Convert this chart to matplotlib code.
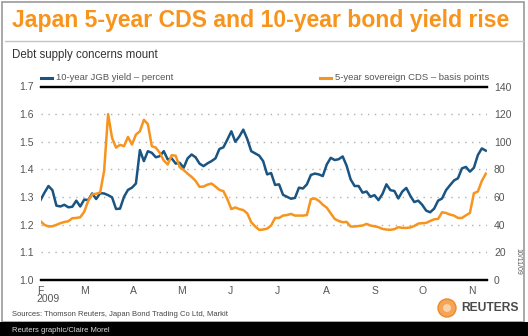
import numpy as np
import pandas as pd
import matplotlib
matplotlib.use('Agg')
import matplotlib.pyplot as plt
import matplotlib.dates as mdates
from matplotlib.lines import Line2D
from matplotlib.patches import Rectangle, Ellipse

plt.rcParams['font.family'] = ['Liberation Sans', 'DejaVu Sans']

# 10-year JGB yield, percent (Feb 1 - Nov 10, 2009, evenly spaced samples)
jgb_yield = [
    1.289, 1.316, 1.340, 1.325, 1.269, 1.266, 1.272, 1.263, 1.265, 1.287,
    1.266, 1.291, 1.289, 1.313, 1.293, 1.314, 1.313, 1.307, 1.299, 1.257,
    1.258, 1.301, 1.326, 1.334, 1.349, 1.470, 1.430, 1.466, 1.460, 1.444,
    1.448, 1.466, 1.436, 1.440, 1.421, 1.424, 1.406, 1.440, 1.454, 1.444,
    1.421, 1.412, 1.422, 1.430, 1.440, 1.474, 1.480, 1.508, 1.538, 1.500,
    1.519, 1.544, 1.510, 1.466, 1.458, 1.450, 1.430, 1.382, 1.387, 1.344,
    1.346, 1.308, 1.301, 1.294, 1.297, 1.334, 1.331, 1.346, 1.380, 1.385,
    1.382, 1.376, 1.418, 1.442, 1.434, 1.437, 1.447, 1.413, 1.364, 1.340,
    1.340, 1.316, 1.320, 1.301, 1.307, 1.289, 1.311, 1.346, 1.325, 1.322,
    1.295, 1.320, 1.333, 1.305, 1.282, 1.287, 1.272, 1.251, 1.245, 1.258,
    1.287, 1.295, 1.325, 1.343, 1.360, 1.368, 1.404, 1.409, 1.392, 1.406,
    1.452, 1.476, 1.468,
]

# 5-year sovereign CDS, basis points (same dates)
cds_bp = [
    42.5, 39.9, 38.7, 38.9, 39.9, 41.1, 42.0, 42.5, 44.7, 44.9,
    45.4, 49.4, 57.3, 61.9, 62.4, 63.3, 78.9, 120.0, 102.8, 95.8,
    97.8, 96.8, 103.5, 98.0, 105.2, 107.6, 115.9, 112.8, 96.8, 95.8,
    92.0, 86.5, 83.6, 90.3, 89.9, 81.7, 79.6, 76.9, 74.6, 71.7,
    67.4, 67.6, 69.0, 69.8, 67.6, 65.2, 64.3, 58.5, 51.3, 52.5,
    51.3, 50.6, 48.2, 41.8, 38.7, 36.3, 36.5, 37.2, 39.4, 44.9,
    44.9, 46.6, 47.0, 47.8, 46.6, 46.6, 46.6, 47.0, 58.5, 59.0,
    57.3, 54.5, 52.3, 48.2, 44.2, 42.7, 41.8, 42.0, 38.7, 38.7,
    39.1, 39.4, 40.6, 39.4, 38.9, 38.2, 37.0, 36.5, 36.3, 36.8,
    38.2, 37.7, 37.7, 38.0, 39.1, 40.8, 41.1, 41.3, 42.7, 43.9,
    44.2, 49.0, 48.5, 47.3, 46.6, 44.9, 44.9, 46.8, 48.5, 62.8,
    64.0, 71.7, 76.9,
]

dates = pd.date_range('2009-02-01', '2009-11-10', periods=len(jgb_yield))
month_starts = pd.date_range('2009-02-01', '2009-11-01', freq='MS')
month_labels = ['F', 'M', 'A', 'M', 'J', 'J', 'A', 'S', 'O', 'N']
left_ticks = [1.0, 1.1, 1.2, 1.3, 1.4, 1.5, 1.6, 1.7]
right_ticks = [0, 20, 40, 60, 80, 100, 120, 140]

BLUE = '#1a5482'
ORANGE = '#f7941d'
GREY = '#555555'

W, H = 528, 336
fig = plt.figure(figsize=(W / 100, H / 100), dpi=100)
fig.patch.set_facecolor('white')

# frame, black footer strip
fig.add_artist(Rectangle((2 / W, 1 - 322 / H), 522 / W, 320 / H, transform=fig.transFigure,
                         fill=False, edgecolor='#9a9a9a', lw=1.2))
fig.add_artist(Rectangle((0, 0), 1, 14 / H, transform=fig.transFigure,
                         facecolor='black', edgecolor='none'))
fig.add_artist(Line2D([5 / W, 523 / W], [1 - 40.5 / H] * 2, color='#c4c4c4', lw=1.0))

fig.text(12 / W, 1 - 21 / H, 'Japan 5-year CDS and 10-year bond yield rise',
         color=ORANGE, fontsize=16.6, va='center', ha='left', fontweight='bold')
fig.text(12 / W, 1 - 55 / H, 'Debt supply concerns mount', color='#333333',
         fontsize=8.3, va='center', ha='left')

x0, x1 = 40.5, 487.0
y_top, y_bot = 86.5, 280.0
ax = fig.add_axes([x0 / W, 1 - y_bot / H, (x1 - x0) / W, (y_bot - y_top) / H])
ax2 = ax.twinx()

ax.plot(dates, jgb_yield, color=BLUE, lw=1.8, solid_joinstyle='round', zorder=3)
ax2.plot(dates, cds_bp, color=ORANGE, lw=1.8, solid_joinstyle='round', zorder=3)

ax.set_ylim(1.0, 1.7)
ax2.set_ylim(0, 140)
ax.set_xlim(pd.Timestamp('2009-02-01'), pd.Timestamp('2009-11-10 18:00'))

ax.set_yticks(left_ticks)
ax.set_yticklabels([f'{v:.1f}' for v in left_ticks])
ax2.set_yticks(right_ticks)
ax2.set_yticklabels([str(v) for v in right_ticks])
ax.set_xticks(month_starts)
ax.set_xticklabels(month_labels)

for a in (ax, ax2):
    a.tick_params(length=0, labelsize=7.5, labelcolor=GREY)
    for s in ('left', 'right'):
        a.spines[s].set_visible(False)
    a.spines['top'].set_linewidth(1.6)
    a.spines['bottom'].set_linewidth(1.6)
ax.tick_params(axis='y', pad=5)
ax2.tick_params(axis='y', pad=5)
ax.tick_params(axis='x', pad=4)

for v in left_ticks[1:-1]:
    ax.axhline(v, color='#b0b0b0', lw=1.0, ls=(0, (1, 4)), zorder=1)

ax.text(-0.008, -0.1, '2009', transform=ax.transAxes, fontsize=7.5, color=GREY,
        ha='left', va='center')

# legend above the top rule
ly = 1 - 78 / H
fig.add_artist(Line2D([41 / W, 52 / W], [ly, ly], color=BLUE, lw=2.2))
fig.text(56 / W, ly, '10-year JGB yield \u2013 percent', fontsize=6.8, color=GREY, va='center')
fig.add_artist(Line2D([320 / W, 331 / W], [ly, ly], color=ORANGE, lw=2.2))
fig.text(335 / W, ly, '5-year sovereign CDS \u2013 basis points', fontsize=6.8, color=GREY,
         va='center')

fig.text(518 / W, 1 - 261 / H, '10/11/09', rotation=270, fontsize=5, color=GREY,
         ha='center', va='center')

fig.text(12 / W, 1 - 315 / H, 'Sources: Thomson Reuters, Japan Bond Trading Co Ltd, Markit',
         fontsize=5.5, color='#444444', va='center')
fig.text(12 / W, 1 - 330 / H, 'Reuters graphic/Claire Morel', fontsize=5.5, color='#dddddd',
         va='center')

# Reuters mark
cx, cy = 447 / W, 1 - 308 / H
fig.add_artist(Ellipse((cx, cy), 18 / W, 18 / H, transform=fig.transFigure,
                       facecolor='#f4a55a', edgecolor='#f08a24', lw=1.0))
fig.add_artist(Ellipse((cx, cy), 8 / W, 8 / H, transform=fig.transFigure,
                       facecolor='#fbd2a6', edgecolor='none'))
fig.text(461 / W, 1 - 308 / H, 'REUTERS', fontsize=8.7, fontweight='bold', color='#4a4a4a',
         va='center')

fig.savefig('out.png', dpi=100)
